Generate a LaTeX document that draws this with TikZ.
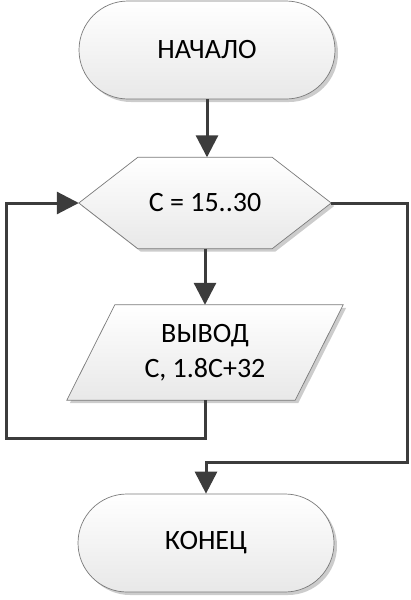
\documentclass[tikz,border=0pt]{standalone}
\usepackage{fontspec}
\setmainfont{Carlito}
\usetikzlibrary{shapes.misc,arrows.meta,shadows,calc}
\definecolor{linec}{HTML}{3C3C3C}
\definecolor{edgec}{HTML}{7A7A7A}
\tikzset{
  x=1pt,y=-1pt,
  blockfill/.style={top color=white,bottom color=black!9,shading angle=0},
  blockshadow/.style={drop shadow={shadow xshift=3pt,shadow yshift=-3pt,opacity=0.2,fill=black}},
  term/.style={rounded rectangle,draw=edgec,line width=0.7pt,blockfill,blockshadow,
    minimum width=256pt,minimum height=98pt,inner sep=0pt,font=\fontsize{28}{34}\selectfont},
  ghost/.style={rectangle,inner sep=0pt,align=center,font=\fontsize{28}{35}\selectfont},
  shapeline/.style={draw=edgec,line width=0.7pt,blockfill,blockshadow},
  conn/.style={draw=linec,line width=3pt},
  arr/.style={conn,-{Triangle[length=22pt,width=22pt]}},
}
\begin{document}
\begin{tikzpicture}
\useasboundingbox (0,0) rectangle (411,600);
% hexagon and parallelogram outlines (drawn first)
\node[ghost,minimum width=252pt,minimum height=91pt] (hex) at (205,203) {};
\node[ghost,minimum width=276pt,minimum height=95pt] (io) at (205,352.5) {};
\path[shapeline] (hex.west) -- ($(hex.north west)+(59,0)$) -- ($(hex.north east)+(-59,0)$)
  -- (hex.east) -- ($(hex.south east)+(-59,0)$) -- ($(hex.south west)+(59,0)$) -- cycle;
\path[shapeline] ($(io.north west)+(48,0)$) -- (io.north east) -- ($(io.south east)+(-48,0)$)
  -- (io.south west) -- cycle;
\node[ghost] (hext) at (hex.center) {C = 15..30};
\node[ghost] (iot) at (io.center) {ВЫВОД\\C, 1.8C+32};
\node[term] (start) at (207,50) {НАЧАЛО};
\node[term] (end) at (206,543) {КОНЕЦ};
\coordinate (l1) at (205,438);
\coordinate (l2) at (6,438);
\coordinate (l3) at (6,203);
\coordinate (r1) at (407,203);
\coordinate (r2) at (407,462);
\coordinate (r3) at (206,462);
% connectors
\draw[arr] (start.south) -- (start.south |- hex.north);
\draw[arr] (hex.south) -- (io.north);
\draw[arr] (io.south) -- (l1) -- (l2) -- (l3) -- (hex.west);
\draw[arr] (hex.east) -- (r1) -- (r2) -- (r3) -- (end.north);
\end{tikzpicture}
\end{document}
